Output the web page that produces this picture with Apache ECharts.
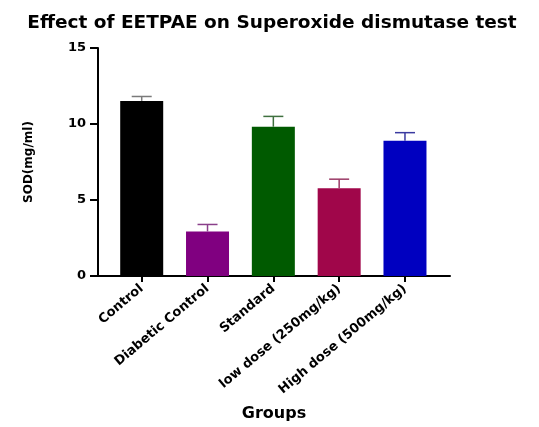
<!DOCTYPE html>
<html><head><meta charset="utf-8">
<script src="https://cdn.jsdelivr.net/npm/echarts@6/dist/echarts.min.js"></script>
<style>html,body{margin:0;padding:0;background:#fff}#c{width:539px;height:427px}</style>
</head><body><div id="c"></div>
<script>
const categories = ['Control', 'Diabetic Control', 'Standard', 'low dose (250mg/kg)', 'High dose (500mg/kg)'];
const means = [11.52, 2.93, 9.82, 5.77, 8.90];
const errors = [0.29, 0.46, 0.68, 0.60, 0.53];
const barColors = ['#000000', '#800080', '#005A00', '#A0064A', '#0000C0'];
const errColors = ['#7a7a7a', '#8a3f8a', '#3f703f', '#9a3a66', '#3a3aa0'];
const yTicks = [0, 5, 10, 15];

const font = '"DejaVu Sans", Arial, sans-serif';
const chart = echarts.init(document.getElementById('c'));
const idx = categories.map((_, i) => i);
chart.setOption({
  animation: false,
  title: {
    text: 'Effect of EETPAE on Superoxide dismutase test',
    left: 267, textAlign: 'center', top: 9,
    textStyle: {fontFamily: font, fontWeight: 'bold', fontSize: 18.5, color: '#000'}
  },
  grid: {left: 98, right: 89, top: 48, bottom: 151},
  xAxis: {
    type: 'value', min: -0.664, max: 4.684,
    splitLine: {show: false},
    axisLine: {show: true, onZero: false, lineStyle: {color: '#000', width: 2}},
    axisTick: {show: true, customValues: idx, length: 6, lineStyle: {color: '#000', width: 2}},
    axisLabel: {
      customValues: idx, rotate: 40, margin: 11,
      formatter: v => categories[Math.round(v)],
      fontFamily: font, fontWeight: 'bold', fontSize: 13, color: '#000'
    },
    name: 'Groups', nameLocation: 'middle', nameGap: 130,
    nameTextStyle: {fontFamily: font, fontWeight: 'bold', fontSize: 16, color: '#000'}
  },
  yAxis: {
    type: 'value', min: yTicks[0], max: yTicks[yTicks.length - 1], interval: 5,
    splitLine: {show: false},
    axisLine: {show: true, onZero: false, lineStyle: {color: '#000', width: 2}},
    axisTick: {show: true, length: 8, lineStyle: {color: '#000', width: 2}},
    axisLabel: {fontFamily: font, fontWeight: 'bold', fontSize: 13, color: '#000', margin: 12},
    name: 'SOD(mg/ml)', nameLocation: 'middle', nameGap: 63,
    nameTextStyle: {fontFamily: font, fontWeight: 'bold', fontSize: 12, color: '#000'}
  },
  series: [
    {
      type: 'bar', barWidth: 43,
      data: means.map((m, i) => ({value: [i, m], itemStyle: {color: barColors[i]}}))
    },
    {
      type: 'custom', z: 3,
      data: means.map((m, i) => [i, m, m + errors[i]]),
      renderItem: (params, api) => {
        const i = api.value(0);
        const base = api.coord([i, api.value(1)]);
        const top = api.coord([i, api.value(2)]);
        const c = errColors[params.dataIndex];
        const hw = 10;
        return {
          type: 'group',
          children: [
            {type: 'line', shape: {x1: base[0], y1: base[1], x2: top[0], y2: top[1]}, style: {stroke: c, lineWidth: 1.5}},
            {type: 'line', shape: {x1: top[0] - hw, y1: top[1], x2: top[0] + hw, y2: top[1]}, style: {stroke: c, lineWidth: 1.5}}
          ]
        };
      }
    }
  ]
});
</script></body></html>
